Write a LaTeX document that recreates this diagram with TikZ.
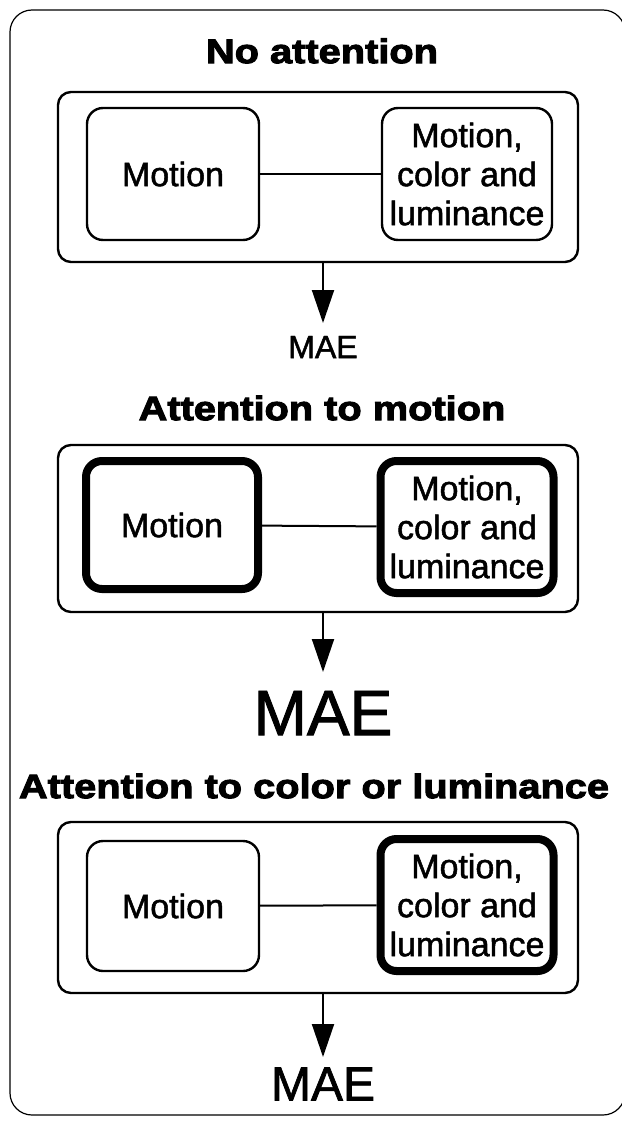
\documentclass[tikz,border=0pt]{standalone}
\usepackage{fontspec}
\setmainfont{Liberation Sans}
\newfontfamily\titlefont[FakeStretch=1.17,FakeBold=3]{Liberation Sans}
\newfontfamily\bodyfont[FakeBold=1.5]{Liberation Sans}
\usetikzlibrary{arrows.meta}
\tikzset{
  frame/.style={draw, line width=1.2pt, rounded corners=22pt},
  panel/.style={draw, line width=2.4pt, rounded corners=13pt, minimum width=520pt},
  unit/.style={draw, line width=2.4pt, rounded corners=16pt, align=center, inner sep=0pt,
    font=\bodyfont\fontsize{34}{39}\selectfont},
  hot/.style={line width=8pt},
  title/.style={font=\titlefont\bfseries\fontsize{34}{37}\selectfont, inner sep=0pt},
  link/.style={line width=2pt},
  flow/.style={line width=2pt, -{Triangle[length=33pt,width=22pt]}},
  mae/.style={inner sep=0pt}
}
\begin{document}
\begin{tikzpicture}[x=1pt,y=-1pt]
\useasboundingbox (0,0) rectangle (621,1121);
\draw[frame] (10,10) rectangle (625,1115);

% Panel 1
\node[title] (t1) at (322,51) {No attention};
\node[panel, minimum height=170pt] (p1) at (318,177) {};
\node[unit, minimum width=172pt, minimum height=132pt] (m1) at (173,174) {Motion};
\node[unit, minimum width=170pt, minimum height=132pt] (c1) at (467,174) {Motion,\\color and\\luminance};
\draw[link] (m1) -- (c1);
\coordinate (a1) at (323,323);
\draw[flow] (p1.south -| a1) -- (a1);
\node[mae, font=\bodyfont\fontsize{32}{34}\selectfont] (e1) at (323,347) {MAE};

% Panel 2
\node[title] (t2) at (322,408) {Attention to motion};
\node[panel, minimum height=167pt] (p2) at (318,528.5) {};
\node[unit, hot, minimum width=172pt, minimum height=128pt] (m2) at (172,525) {Motion};
\node[unit, hot, minimum width=173pt, minimum height=132pt] (c2) at (467,527) {Motion,\\color and\\luminance};
\draw[link] (m2) -- (c2);
\coordinate (a2) at (323,672);
\draw[flow] (p2.south -| a2) -- (a2);
\node[mae, font=\bodyfont\fontsize{64}{66}\selectfont] (e2) at (323,713) {MAE};

% Panel 3
\node[title] (t3) at (314,786) {Attention to color or luminance};
\node[panel, minimum height=171pt] (p3) at (318,907.5) {};
\node[unit, minimum width=172pt, minimum height=130pt] (m3) at (173,906) {Motion};
\node[unit, hot, minimum width=173pt, minimum height=132pt] (c3) at (467,905) {Motion,\\color and\\luminance};
\draw[link] (m3) -- (c3);
\coordinate (a3) at (323,1057);
\draw[flow] (p3.south -| a3) -- (a3);
\node[mae, font=\bodyfont\fontsize{48}{50}\selectfont] (e3) at (323,1084) {MAE};
\end{tikzpicture}
\end{document}
